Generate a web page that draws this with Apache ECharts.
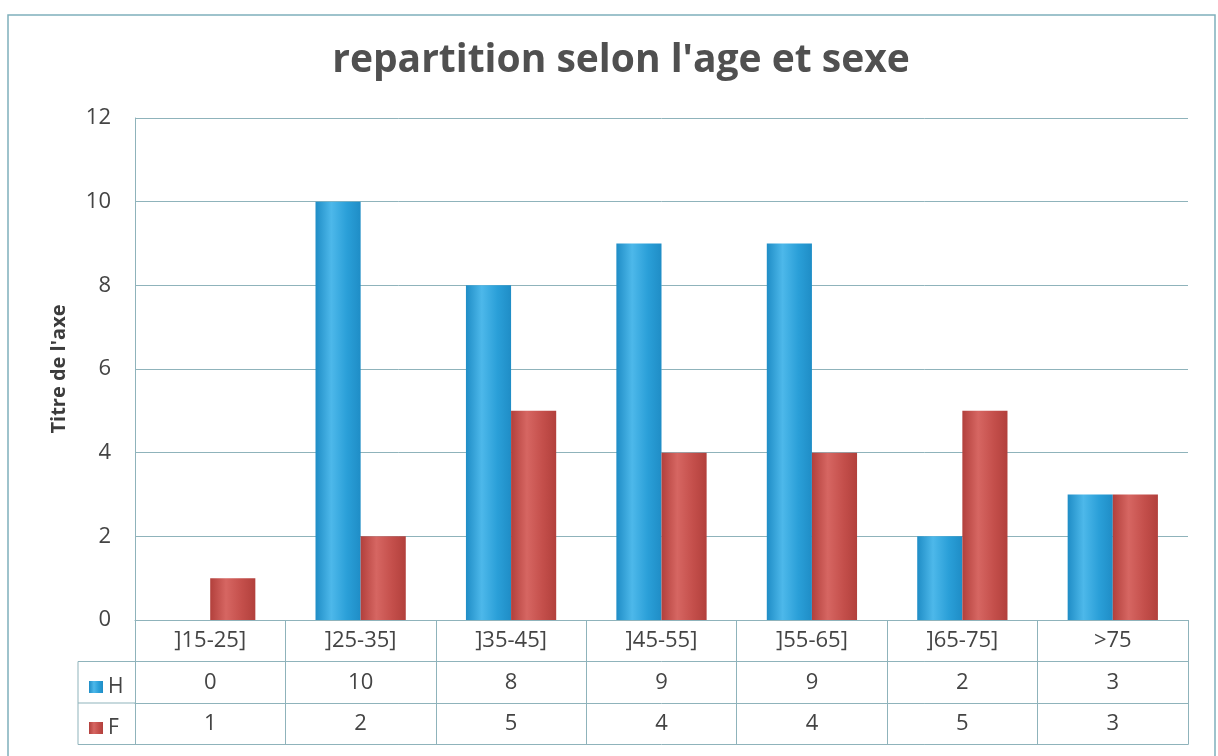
<!DOCTYPE html>
<html>
<head>
<meta charset="utf-8">
<script src="https://cdn.jsdelivr.net/npm/echarts@6/dist/echarts.min.js"></script>
<style>
  html, body { margin: 0; padding: 0; background: #fff; }
  #main { width: 1218px; height: 756px; }
</style>
</head>
<body>
<div id="main"></div>
<script>
const categories = [']15-25]', ']25-35]', ']35-45]', ']45-55]', ']55-65]', ']65-75]', '>75'];
const hommes = [0, 10, 8, 9, 9, 2, 3];
const femmes = [1, 2, 5, 4, 4, 5, 3];
const yTicks = [0, 2, 4, 6, 8, 10, 12];

const lineCol = '#8fb3bb';
const textCol = '#444';
const font = 'Open Sans';

const chart = echarts.init(document.getElementById('main'));

// 3d-ish gradient, like the excel bevel
function barGrad(dark, mid, light) {
  return new echarts.graphic.LinearGradient(0, 0, 1, 0, [
    { offset: 0, color: dark },
    { offset: 0.35, color: light },
    { offset: 0.7, color: mid },
    { offset: 1, color: dark }
  ]);
}

const rowH = 41.5;
const tableAxis = (offset, vals, showLine) => ({
  type: 'category',
  data: categories,
  position: 'bottom',
  offset: offset,
  axisLine: { show: showLine, lineStyle: { color: lineCol, width: 1 } },
  axisTick: { show: false },
  axisLabel: {
    show: !!vals,
    margin: 10,
    fontSize: 22,
    fontFamily: font,
    color: textCol,
    formatter: (v, i) => vals ? String(vals[i]) : ''
  },
  splitLine: { show: false }
});

const option = {
  animation: false,
  title: {
    text: "repartition selon l'age et sexe",
    left: 616,
    textAlign: 'center',
    top: 36,
    textStyle: { fontSize: 39, fontWeight: 'bold', fontFamily: font, color: '#505050' }
  },
  legend: {
    orient: 'vertical',
    left: 84,
    top: 671,
    itemGap: 19,
    itemWidth: 14,
    itemHeight: 12,
    icon: 'rect',
    textStyle: { fontSize: 21, fontFamily: font, color: textCol, lineHeight: 22, padding: [0, 0, 0, 0] },
    data: ['H', 'F']
  },
  grid: { left: 135, right: 30, top: 118, bottom: 136 },
  xAxis: [
    {
      type: 'category',
      data: categories,
      axisLine: { show: true, lineStyle: { color: lineCol, width: 1 } },
      axisTick: { show: true, inside: false, length: rowH * 3, lineStyle: { color: lineCol } },
      axisLabel: { margin: 10, fontSize: 22, fontFamily: font, color: textCol },
      splitLine: { show: false }
    },
    tableAxis(rowH, hommes, true),
    tableAxis(rowH * 2, femmes, true),
    tableAxis(rowH * 3, null, true)
  ],
  yAxis: {
    type: 'value',
    min: 0,
    max: 12,
    interval: 2,
    name: "Titre de l'axe",
    nameLocation: 'middle',
    nameGap: 66,
    nameRotate: 90,
    nameTextStyle: { fontSize: 20, fontWeight: 'bold', fontFamily: font, color: '#3c3c3c' },
    axisLine: { show: true, lineStyle: { color: lineCol } },
    axisTick: { show: false },
    axisLabel: {
      fontSize: 22, fontFamily: font, color: textCol, margin: 24,
      formatter: v => yTicks.includes(v) ? String(v) : ''
    },
    splitLine: { show: true, lineStyle: { color: lineCol, width: 1 } }
  },
  series: [
    {
      name: 'H',
      type: 'bar',
      data: hommes,
      barGap: '0%',
      barCategoryGap: '40%',
      itemStyle: { color: barGrad('#1f8dc6', '#2a9fd8', '#4db8ea') }
    },
    {
      name: 'F',
      type: 'bar',
      data: femmes,
      itemStyle: { color: barGrad('#b2403c', '#c44f4b', '#d66662') }
    }
  ]
};

chart.setOption(option);

// left part of the data table (legend column) and the outer chart border
const x0 = chart.convertToPixel({ xAxisIndex: 0 }, 0) - (chart.convertToPixel({ xAxisIndex: 0 }, 1) - chart.convertToPixel({ xAxisIndex: 0 }, 0)) / 2;
const yBase = chart.convertToPixel({ yAxisIndex: 0 }, 0);
const leftX = 78;
const ln = (x1, y1, x2, y2) => ({
  type: 'line',
  shape: { x1, y1, x2, y2 },
  style: { stroke: lineCol, lineWidth: 1 },
  silent: true
});
chart.setOption({
  graphic: [
    ln(leftX, yBase + rowH, x0, yBase + rowH),
    ln(leftX, yBase + rowH * 2, x0, yBase + rowH * 2),
    ln(leftX, yBase + rowH * 3, x0, yBase + rowH * 3),
    ln(leftX, yBase + rowH, leftX, yBase + rowH * 3),
    {
      type: 'rect',
      shape: { x: 8, y: 15, width: 1207, height: 760 },
      style: { fill: null, stroke: '#7fb0bc', lineWidth: 1.5 },
      silent: true
    }
  ]
});
</script>
</body>
</html>
